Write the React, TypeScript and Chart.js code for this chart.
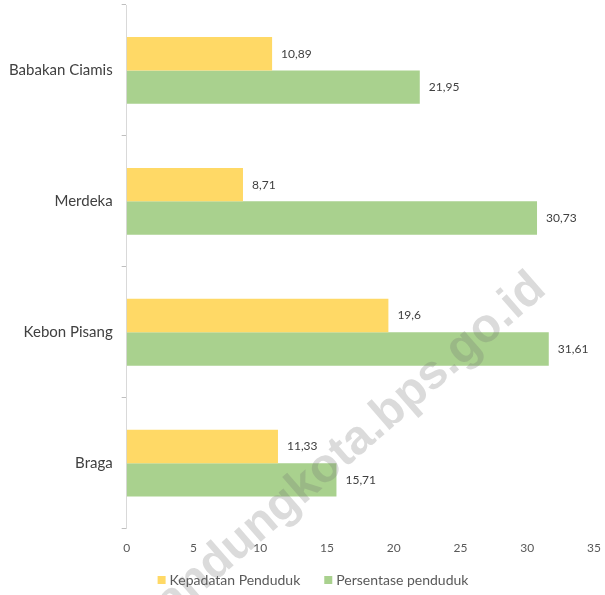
import React, { useEffect, useRef } from "react";
import { Chart, registerables } from "chart.js";

Chart.register(...registerables);

const categories = ["Babakan Ciamis", "Merdeka", "Kebon Pisang", "Braga"];
const kepadatan = [10.89, 8.71, 19.6, 11.33];
const persentase = [21.95, 30.73, 31.61, 15.71];
const seriesNames = ["Kepadatan Penduduk", "Persentase penduduk"];
const seriesColors = ["#FFD966", "#A9D18E"];
const watermark = "bandungkota.bps.go.id";

const FONT = "Lato, 'Open Sans', sans-serif";

const valueLabels = {
  id: "valueLabels",
  afterDatasetsDraw(chart: any) {
    const ctx = chart.ctx;
    ctx.save();
    ctx.font = `12px ${FONT}`;
    ctx.fillStyle = "#404040";
    ctx.textAlign = "left";
    ctx.textBaseline = "middle";
    chart.data.datasets.forEach((ds: any, i: number) => {
      const meta = chart.getDatasetMeta(i);
      meta.data.forEach((bar: any, j: number) => {
        const v = ds.data[j];
        ctx.fillText(String(v).replace(".", ","), bar.x + 9, bar.y);
      });
    });
    ctx.restore();
  },
};

const customLegend = {
  id: "customLegend",
  afterDraw(chart: any) {
    const ctx = chart.ctx;
    ctx.save();
    ctx.font = `14px ${FONT}`;
    ctx.textBaseline = "middle";
    ctx.textAlign = "left";
    const box = 8;
    const boxGap = 4;
    const itemGap = 24;
    const items = chart.data.datasets.map((ds: any) => ({
      text: ds.label,
      color: ds.backgroundColor,
      w: box + boxGap + ctx.measureText(ds.label).width,
    }));
    const total = items.reduce((s: number, it: any) => s + it.w, 0) + itemGap * (items.length - 1);
    const cx = 313;
    const cy = 580;
    let x = cx - total / 2;
    items.forEach((it: any) => {
      ctx.fillStyle = it.color;
      ctx.fillRect(x, cy - box / 2, box, box);
      ctx.fillStyle = "#595959";
      ctx.fillText(it.text, x + box + boxGap, cy);
      x += it.w + itemGap;
    });
    ctx.restore();
  },
};

const watermarkPlugin = {
  id: "watermark",
  afterDraw(chart: any) {
    const ctx = chart.ctx;
    ctx.save();
    ctx.translate(548, 292);
    ctx.rotate((-41 * Math.PI) / 180);
    ctx.font = `bold 48px 'Liberation Sans', Arial, sans-serif`;
    ctx.fillStyle = "rgba(110,110,110,0.25)";
    ctx.textAlign = "right";
    ctx.textBaseline = "alphabetic";
    ctx.fillText(watermark, 0, 0);
    ctx.restore();
  },
};

export default function App() {
  const ref = useRef<HTMLCanvasElement>(null);
  useEffect(() => {
    if (!ref.current) return;
    const chart = new Chart(ref.current, {
      type: "bar",
      data: {
        labels: categories,
        datasets: [
          {
            label: seriesNames[0],
            data: kepadatan,
            backgroundColor: seriesColors[0],
            borderWidth: 0,
            barPercentage: 1,
            categoryPercentage: 0.51,
          },
          {
            label: seriesNames[1],
            data: persentase,
            backgroundColor: seriesColors[1],
            borderWidth: 0,
            barPercentage: 1,
            categoryPercentage: 0.51,
          },
        ],
      },
      options: {
        indexAxis: "y",
        animation: false,
        responsive: false,
        maintainAspectRatio: false,
        layout: { padding: { top: 5, right: 6, left: 0, bottom: 36 } },
        plugins: {
          legend: { display: false },
          tooltip: { enabled: false },
        },
        scales: {
          x: {
            min: 0,
            max: 35,
            ticks: {
              stepSize: 5,
              font: { family: FONT, size: 12 },
              color: "#595959",
              padding: 4,
            },
            grid: { display: false },
            border: { display: false },
          },
          y: {
            afterFit: (scale: any) => {
              scale.paddingTop = 0;
              scale.paddingBottom = 0;
            },
            ticks: {
              font: { family: FONT, size: 15 },
              color: "#404040",
              padding: 9,
            },
            grid: {
              drawOnChartArea: false,
              tickLength: 5,
              color: "#BFBFBF",
              offset: true,
            },
            border: { display: true, color: "#D9D9D9" },
          },
        },
      },
      plugins: [valueLabels, customLegend, watermarkPlugin],
    });
    return () => chart.destroy();
  }, []);
  return (
    <div style={{ position: "fixed", left: 0, top: 0, width: 605, height: 595, background: "#fff" }}>
      <canvas ref={ref} width={605} height={595} />
    </div>
  );
}
